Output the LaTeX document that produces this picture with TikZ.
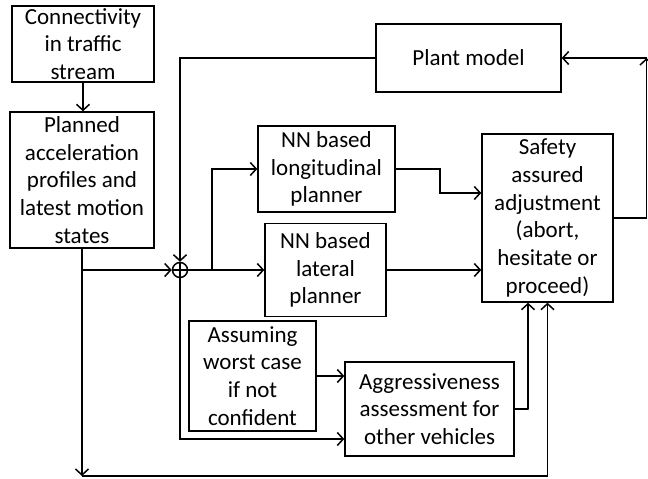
\documentclass[tikz,border=0pt]{standalone}
\usepackage{fontspec}
\setmainfont{Carlito}
\usetikzlibrary{arrows.meta}
\begin{document}
\begin{tikzpicture}[x=1pt,y=-1pt,line width=1.9pt,
  box/.style={draw,line width=1.4pt,align=center,inner sep=0pt,font=\fontsize{23}{27.8}\selectfont},
  arr/.style={-{Straight Barb[length=6pt,width=13pt,line width=1.5pt]}},
  sumnode/.style={draw,circle,line width=1.5pt,minimum size=15pt,inner sep=0pt,
    path picture={\draw[line width=1.5pt] (path picture bounding box.north) -- (path picture bounding box.south)
      (path picture bounding box.west) -- (path picture bounding box.east);}}]
\useasboundingbox (0,0) rectangle (648,479);
\node[box,minimum width=142pt,minimum height=76pt] (conn) at (83,44) {Connectivity\\in traffic\\stream};
\node[box,minimum width=144pt,minimum height=136pt] (plan) at (82,180) {Planned\\acceleration\\profiles and\\latest motion\\states};
\node[box,minimum width=185pt,minimum height=68pt] (plant) at (468.5,58) {Plant model};
\node[box,minimum width=137pt,minimum height=86pt] (lon) at (326.5,169) {NN based\\longitudinal\\planner};
\node[box,minimum width=121pt,minimum height=93pt] (lat) at (325.5,270) {NN based\\lateral\\planner};
\node[box,minimum width=131pt,minimum height=168pt] (safe) at (547.5,218) {Safety\\assured\\adjustment\\(abort,\\hesitate or\\proceed)};
\node[box,minimum width=127pt,minimum height=110pt] (assume) at (252.5,376) {Assuming\\worst case\\if not\\confident};
\node[box,minimum width=169pt,minimum height=94pt] (aggr) at (429.5,409) {Aggressiveness\\assessment for\\other vehicles};
\node[sumnode] (sum) at (180,270) {};
\coordinate (br) at (82,270);
\coordinate (bl) at (82,476);
\coordinate (fork) at (212,270);
\coordinate (tr) at (646.5,58);
\draw[arr] (conn.south) -- (conn.south |- plan.north);
\draw (plan.south) -- (br);
\draw[arr] (br) -- (sum);
\draw[arr] (br) -- (bl);
\draw[arr] (bl) -| (safe.south);
\draw[arr] (plant.west) -| (sum.north);
\draw[arr] (sum) -- (lat);
\draw[arr] (fork) |- (lon.west);
\draw[arr] (lon.east) -- ++(44,0) |- ([yshift=25pt]safe.west);
\draw[arr] (lat.east) -- (lat.east -| safe.west);
\draw[arr] (sum.south) |- ([yshift=-30pt]aggr.west);
\draw[arr] (assume.east) -- (assume.east -| aggr.west);
\draw[arr] (aggr.east) -- ++(14,0) -| ([xshift=-19.5pt]safe.south);
\draw[arr] (safe.east) -| (tr);
\draw[arr] (tr) -- (plant.east);
\end{tikzpicture}
\end{document}
